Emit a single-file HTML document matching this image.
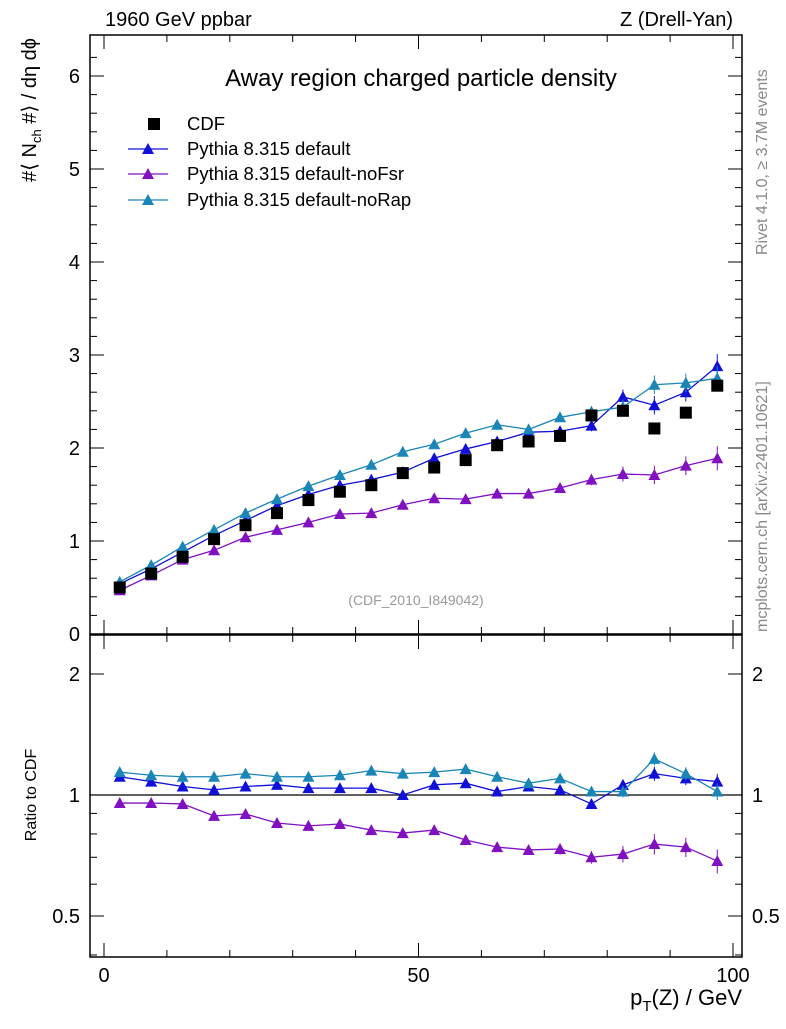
<!DOCTYPE html>
<html><head><meta charset="utf-8"><style>
body{margin:0;background:#fff;}
svg text{font-family:"Liberation Sans","DejaVu Sans",sans-serif;}
</style></head><body>
<svg id="c" width="786" height="1024" viewBox="0 0 786 1024" xmlns="http://www.w3.org/2000/svg">
<rect x="0" y="0" width="786" height="1024" fill="#fff"/>
<text x="105" y="26" font-size="20">1960 GeV ppbar</text>
<text x="733" y="26" font-size="20" text-anchor="end">Z (Drell-Yan)</text>
<text x="421" y="86" font-size="24" text-anchor="middle">Away region charged particle density</text>
<text x="416" y="605" font-size="14" fill="#999" text-anchor="middle">(CDF_2010_I849042)</text>
<text transform="translate(767,255) rotate(-90)" font-size="16" fill="#888">Rivet 4.1.0, ≥ 3.7M events</text>
<text transform="translate(767,632) rotate(-90)" font-size="16" fill="#888">mcplots.cern.ch [arXiv:2401.10621]</text>
<text transform="translate(36,38) rotate(-90)" font-size="20" text-anchor="end">#⟨ N<tspan font-size="13" dy="5">ch</tspan><tspan dy="-5"> #⟩ / dη dϕ</tspan></text>
<text transform="translate(36,795) rotate(-90)" font-size="16" text-anchor="middle">Ratio to CDF</text>
<text x="742" y="1005" font-size="22" text-anchor="end">p<tspan font-size="15" dy="6">T</tspan><tspan dy="-6">(Z) / GeV</tspan></text>
<g id="axes"></g>
<g id="marks"></g>
<g id="legend"></g>
</svg>
<script>
const xs=[2.5,7.5,12.5,17.5,22.5,27.5,32.5,37.5,42.5,47.5,52.5,57.5,62.5,67.5,72.5,77.5,82.5,87.5,92.5,97.5];
const cdf=[0.50,0.65,0.83,1.02,1.17,1.30,1.44,1.53,1.60,1.73,1.79,1.87,2.03,2.07,2.13,2.35,2.40,2.21,2.38,2.67];
const pyDef=[0.54,0.70,0.88,1.06,1.22,1.38,1.50,1.60,1.66,1.74,1.89,1.99,2.07,2.17,2.18,2.24,2.55,2.46,2.60,2.88];
const pyNoFsr=[0.47,0.63,0.80,0.90,1.04,1.12,1.20,1.29,1.30,1.39,1.46,1.45,1.51,1.51,1.57,1.66,1.72,1.71,1.81,1.89];
const pyNoRap=[0.56,0.74,0.94,1.12,1.30,1.45,1.59,1.71,1.82,1.96,2.04,2.16,2.25,2.20,2.33,2.39,2.44,2.68,2.70,2.75];
const rDef=[1.11,1.08,1.05,1.03,1.05,1.06,1.04,1.04,1.04,1.00,1.06,1.07,1.02,1.05,1.03,0.95,1.06,1.13,1.10,1.08];
const rNoFsr=[0.955,0.955,0.95,0.887,0.897,0.852,0.838,0.847,0.818,0.804,0.818,0.773,0.742,0.73,0.734,0.70,0.713,0.755,0.742,0.685];
const rNoRap=[1.14,1.12,1.11,1.11,1.13,1.11,1.11,1.12,1.15,1.13,1.14,1.16,1.11,1.07,1.10,1.02,1.02,1.23,1.13,1.02];
const errMain=[0.01,0.01,0.01,0.015,0.015,0.02,0.02,0.02,0.02,0.02,0.025,0.03,0.03,0.04,0.05,0.06,0.08,0.1,0.1,0.13];
const xTicks=[0,50,100];
const yTicks=[0,1,2,3,4,5,6];
const rTicks=[0.5,1,2];
const series=[
 {name:'Pythia 8.315 default',v:pyDef,r:rDef,c:'#1010d8',id:'default'},
 {name:'Pythia 8.315 default-noFsr',v:pyNoFsr,r:rNoFsr,c:'#8010c0',id:'nofsr'},
 {name:'Pythia 8.315 default-noRap',v:pyNoRap,r:rNoRap,c:'#1a86b8',id:'norap'}];
const NS='http://www.w3.org/2000/svg';
const L=90,R=742,T=35,MB=634,RT=635,RB=957;
const X=v=>104+v*6.29;
const Y=v=>634-v*93;
const YR=v=>795-Math.log2(v)*121;
function mk(tag,a,p){const e=document.createElementNS(NS,tag);for(const k in a)e.setAttribute(k,a[k]);p.appendChild(e);return e;}
const ax=document.getElementById('axes'),mg=document.getElementById('marks'),lg=document.getElementById('legend');
let f1=mk('rect',{x:L,y:T,width:R-L,height:MB-T,fill:'none',stroke:'#000','stroke-width':1.5},ax);


let f2=mk('rect',{x:L,y:RT,width:R-L,height:RB-RT,fill:'none',stroke:'#000','stroke-width':1.5},ax);


for(let v=0;v<=100;v+=10){const maj=v%50==0,len=maj?14:7;
 [[T,1],[MB,-1],[RT,1],[RB,-1]].forEach(([y,d])=>mk('line',{x1:X(v),x2:X(v),y1:y,y2:y+d*len,stroke:'#000'},ax));}
xTicks.forEach(v=>{let t=mk('text',{x:X(v),y:982,'font-size':20,'text-anchor':'middle'},ax);t.textContent=v;
 
 });
for(let v=0;v<=6.4;v+=0.2){const maj=Math.abs(v-Math.round(v))<1e-6,len=maj?14:7;const y=Y(v);if(y<T)break;
 mk('line',{x1:L,x2:L+len,y1:y,y2:y,stroke:'#000'},ax);mk('line',{x1:R,x2:R-len,y1:y,y2:y,stroke:'#000'},ax);}
yTicks.forEach(v=>{let t=mk('text',{x:80,y:Y(v)+7,'font-size':20,'text-anchor':'end'},ax);t.textContent=v;
 
 });
[0.4,0.5,0.6,0.7,0.8,0.9,1,2].forEach(v=>{const y=YR(v);if(y>RB||y<RT)return;const len=(v==0.5||v==1||v==2)?14:7;
 mk('line',{x1:L,x2:L+len,y1:y,y2:y,stroke:'#000'},ax);mk('line',{x1:R,x2:R-len,y1:y,y2:y,stroke:'#000'},ax);});
rTicks.forEach(v=>{[[80,'end'],[752,'start']].forEach(([x,a])=>{let t=mk('text',{x:x,y:YR(v)+7,'font-size':20,'text-anchor':a},ax);t.textContent=v;
 
 });});
mk('line',{x1:L,x2:R,y1:YR(1),y2:YR(1),stroke:'#000','stroke-width':1.2},ax);
function tri(x,y,c,p){return mk('polygon',{points:`${x},${y-6} ${x-6},${y+5} ${x+6},${y+5}`,fill:c},p);}
series.forEach(s=>{
 let g=mk('g',{},mg);
 mk('polyline',{points:xs.map((x,i)=>X(x)+','+Y(s.v[i])).join(' '),fill:'none',stroke:s.c,'stroke-width':1.3},g);
 mk('polyline',{points:xs.map((x,i)=>X(x)+','+YR(s.r[i])).join(' '),fill:'none',stroke:s.c,'stroke-width':1.3},g);
 xs.forEach((x,i)=>{const e=errMain[i];
  mk('line',{x1:X(x),x2:X(x),y1:Y(s.v[i]-e),y2:Y(s.v[i]+e),stroke:s.c},g);
  let m=tri(X(x),Y(s.v[i]),s.c,g);
  const re=e/Math.max(s.v[i],0.3);
  mk('line',{x1:X(x),x2:X(x),y1:YR(s.r[i]*(1-re)),y2:YR(s.r[i]*(1+re)),stroke:s.c},g);
  let m2=tri(X(x),YR(s.r[i]),s.c,g);});
});
xs.forEach((x,i)=>{let r=mk('rect',{x:X(x)-6,y:Y(cdf[i])-6,width:12,height:12,fill:'#000'},mg);
 });
let ly=[124,149,174,200];
let lr=mk('rect',{x:148,y:ly[0]-6,width:12,height:12,fill:'#000'},lg);

let lt=mk('text',{x:187,y:ly[0]+6,'font-size':18.5},lg);lt.textContent='CDF';

series.forEach((s,i)=>{const y=ly[i+1];
 mk('line',{x1:128,x2:168,y1:y,y2:y,stroke:s.c,'stroke-width':1.3},lg);tri(148,y,s.c,lg);
 let t=mk('text',{x:187,y:y+6,'font-size':18.5},lg);t.textContent=s.name;
 });
</script>
</body></html>
